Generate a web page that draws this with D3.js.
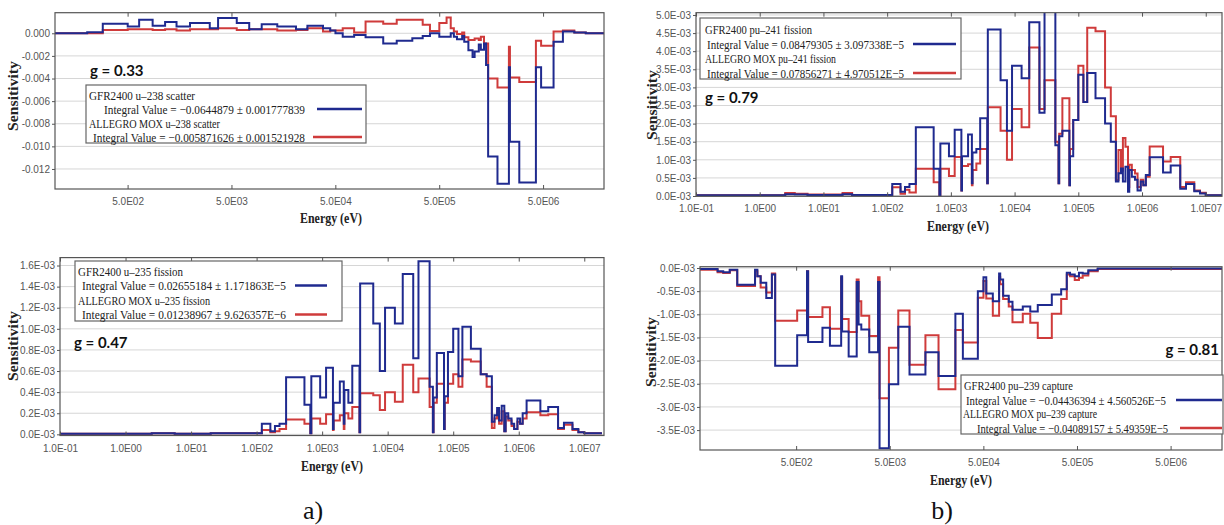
<!DOCTYPE html>
<meta charset="utf-8" />
<script src="https://d3js.org/d3.v7.min.js"></script>
<style>
  body { margin: 0; background: #fff; }
</style>
<div id="chart"></div>
<script>
  // Sensitivities are stored in units of 1E-03.

  // a) top: u-238 scatter
  const scatterEdges = [2.00, 2.31, 2.46, 2.70, 2.81, 2.94, 3.06, 3.17, 3.30, 3.49, 3.57, 3.75, 3.87, 3.99,
    4.14, 4.32, 4.43, 4.58, 4.65, 4.70, 4.77, 4.88, 4.99, 5.16, 5.29, 5.44, 5.54, 5.61, 5.70, 5.77, 5.81,
    5.84, 5.87, 5.92, 5.94, 5.98, 6.02, 6.04, 6.08, 6.10, 6.13, 6.15, 6.17, 6.26, 6.37, 6.38, 6.47, 6.63,
    6.68, 6.80, 6.89, 7.00, 7.11, 7.29];
  const gfrU238Scatter = [0, 0.1, 0.84, 0.6, 1.2, 0.66, 1.0, 0.6, 0.9, 0.45, 1.35, 0.9, 0.36, 0.8, 0.6,
    0.36, 0.66, 0.45, 0.24, 0, -0.3, -0.15, -0.36, -0.9, -0.66, -0.45, -0.24, 0,
    -0.3, -0.3, 0, -0.3, -0.53, -0.24, -0.74, -1.5, -2.1, -1.6, -1.0, -1.45, -0.9, -2.8, -10.9, -13.3,
    -3.0, -9.6, -13.2, -3.0, -4.8, -0.74, 0.15, 0.06, 0];
  const allegroU238Scatter = [0, 0, 0.3, 0.36, 0.36, 0.3, 0.36, 0.24, 0.36, 0.36, 0.45, 0.3, 0.36, 0.36,
    0.24, 0.3, 0.45, 0.15, 0.24, 0.24, 0.45, 0.06, 1.05, 0.84, 1.2, 1.2, 0.75, 0.2,
    0.9, 1.4, 0.45, 0.15, -0.06, 0.06, -0.36, -0.6, -0.6, -0.47, -0.6, -0.3, -0.9, -0.9, -4.0, -4.8,
    -1.2, -3.9, -4.3, -0.65, -1.1, 0.15, 0.24, 0.06, 0];

  // a) bottom and b) top: fission, same group structure
  const fissionEdges = [-1.00, 0.40, 0.55, 0.75, 1.30, 1.45, 2.08, 2.21, 2.28, 2.35, 2.45, 2.73, 2.82,
    2.835, 2.97, 3.06, 3.165, 3.175, 3.27, 3.33, 3.34, 3.40, 3.46, 3.57, 3.58, 3.78, 3.88, 3.96, 4.11,
    4.23, 4.39, 4.47, 4.64, 4.69, 4.70, 4.75, 4.86, 4.87, 4.92, 5.00, 5.08, 5.14, 5.27, 5.42, 5.51, 5.59,
    5.63, 5.67, 5.70, 5.74, 5.78, 5.80, 5.84, 5.89, 5.93, 5.98, 6.02, 6.06, 6.12, 6.33, 6.45, 6.60, 6.69,
    6.82, 6.91, 7.00, 7.27];
  const gfrU235Fission = [0.005, 0.01, 0.01, 0.005, 0.01, 0.01, 0.10, 0.03, 0.08, 0.10,
    0.54, 0.28, 0.01, 0.55, 0.35, 0.63, 0.05, 0.30, 0.50, 0.10,
    0.42, 0.30, 0.65, 0.02, 1.43, 1.05, 0.60, 1.20, 1.05, 1.52,
    0.72, 1.64, 0.45, 0.02, 0.35, 0.77, 0.05, 0.36, 0.78, 1.00,
    0.55, 1.02, 0.81, 0.57, 0.55, 0.12, 0.18, 0.25, 0.13, 0.27,
    0.03, 0.20, 0.15, 0.10, 0.05, 0.15, 0.10, 0.20, 0.32, 0.22,
    0.26, 0.06, 0.11, 0.05, 0.02, 0.01];
  const allegroU235Fission = [0.005, 0.01, 0.01, 0.005, 0.01, 0.01, 0.04, 0.02, 0.03, 0.05,
    0.14, 0.10, 0.01, 0.15, 0.10, 0.19, 0.04, 0.13, 0.18, 0.05,
    0.20, 0.15, 0.26, 0.02, 0.39, 0.37, 0.23, 0.40, 0.31, 0.66,
    0.40, 0.53, 0.26, 0.02, 0.30, 0.48, 0.05, 0.30, 0.48, 0.57,
    0.45, 0.71, 0.69, 0.57, 0.45, 0.06, 0.15, 0.22, 0.10, 0.22,
    0.03, 0.17, 0.13, 0.08, 0.05, 0.12, 0.10, 0.15, 0.21, 0.18,
    0.19, 0.05, 0.09, 0.04, 0.02, 0.01];
  const gfrPu241Fission = [0.02, 0.05, 0.04, 0.03, 0.05, 0.03, 0.33, 0.12, 0.25, 0.33,
    1.90, 0.75, 0.02, 1.45, 1.10, 1.83, 0.15, 1.10, 1.70, 0.35,
    1.20, 1.30, 2.15, 0.35, 4.60, 3.20, 1.80, 3.60, 3.25, 4.80,
    2.30, 5.10, 1.40, 0.35, 1.65, 1.80, 0.30, 1.10, 2.10, 3.35,
    2.60, 3.40, 2.70, 2.00, 1.50, 0.40, 0.63, 0.76, 0.40, 0.81,
    0.12, 0.72, 0.53, 0.45, 0.15, 0.40, 0.30, 0.58, 1.07, 0.65,
    0.84, 0.20, 0.33, 0.13, 0.07, 0.02];
  const allegroPu241Fission = [0.02, 0.08, 0.06, 0.04, 0.08, 0.03, 0.24, 0.06, 0.17, 0.10,
    0.75, 0.38, 0.02, 0.75, 0.55, 1.08, 0.15, 0.83, 0.88, 0.30,
    0.72, 0.90, 1.30, 0.35, 2.45, 1.80, 1.00, 2.40, 1.90, 4.10,
    2.40, 3.20, 1.50, 0.35, 1.72, 2.70, 0.30, 1.30, 2.10, 3.60,
    2.60, 4.65, 4.55, 3.00, 2.20, 0.44, 1.27, 0.70, 1.60, 1.36,
    0.25, 0.86, 0.72, 0.62, 0.25, 0.45, 0.30, 0.53, 1.37, 0.95,
    1.08, 0.25, 0.38, 0.15, 0.09, 0.02];

  // b) bottom: pu-239 capture
  const captureEdges = [1.67, 1.86, 1.92, 1.99, 2.07, 2.26, 2.285, 2.32, 2.38, 2.44, 2.475, 2.71, 2.815,
    2.827, 2.98, 3.06, 3.18, 3.19, 3.26, 3.346, 3.366, 3.395, 3.48, 3.574, 3.59, 3.69, 3.79, 3.91, 4.08,
    4.22, 4.40, 4.48, 4.64, 4.70, 4.73, 4.80, 4.867, 4.879, 4.91, 4.97, 5.01, 5.12, 5.20, 5.28, 5.43,
    5.53, 5.59, 5.625, 5.675, 5.72, 5.76, 5.82, 5.92, 7.25];
  const gfrPu239Capture = [-0.02, -0.07, -0.09, -0.04, -0.36, -0.04, -0.18, -0.32, -0.65, -0.14,
    -2.11, -1.45, -0.07, -1.60, -1.29, -1.68, -0.18, -1.37, -1.91, -0.30,
    -1.22, -1.33, -1.82, -0.30, -3.89, -2.51, -1.27, -2.30, -1.82, -2.33,
    -0.99, -1.96, -0.50, -0.20, -0.55, -0.72, -0.12, -0.25, -0.60, -0.73,
    -0.90, -0.83, -0.94, -0.80, -0.57, -0.46, -0.10, -0.14, -0.18, -0.10,
    -0.12, -0.05, -0.01];
  const allegroPu239Capture = [-0.04, -0.09, -0.11, -0.05, -0.39, -0.07, -0.18, -0.42, -0.53, -0.12,
    -1.14, -0.92, -0.07, -1.06, -0.85, -1.31, -0.20, -1.10, -1.38, -0.25,
    -0.72, -1.03, -1.47, -0.20, -2.81, -1.72, -0.92, -2.09, -1.45, -2.62,
    -1.34, -1.61, -0.64, -0.28, -0.66, -1.03, -0.20, -0.35, -0.67, -0.83,
    -1.17, -0.99, -1.18, -1.51, -0.99, -0.67, -0.14, -0.18, -0.26, -0.21,
    -0.16, -0.07, -0.02];

  // tick values and labels
  const fiveTicks = [5e2, 5e3, 5e4, 5e5, 5e6];
  const fiveLabels = ["5.0E02", "5.0E03", "5.0E04", "5.0E05", "5.0E06"];
  const decadeTicks = [1e-1, 1e0, 1e1, 1e2, 1e3, 1e4, 1e5, 1e6, 1e7];
  const decadeLabels = ["1.0E-01", "1.0E00", "1.0E01", "1.0E02", "1.0E03", "1.0E04", "1.0E05", "1.0E06", "1.0E07"];
  const scatterYTicks = [0, -2, -4, -6, -8, -10, -12];
  const scatterYLabels = ["0.000", "-0.002", "-0.004", "-0.006", "-0.008", "-0.010", "-0.012"];
  const u235YTicks = [0, 0.2, 0.4, 0.6, 0.8, 1.0, 1.2, 1.4, 1.6];
  const u235YLabels = ["0.0E-03", "0.2E-03", "0.4E-03", "0.6E-03", "0.8E-03", "1.0E-03", "1.2E-03", "1.4E-03", "1.6E-03"];
  const pu241YTicks = [0, 0.5, 1.0, 1.5, 2.0, 2.5, 3.0, 3.5, 4.0, 4.5, 5.0];
  const pu241YLabels = ["0.0E-03", "0.5E-03", "1.0E-03", "1.5E-03", "2.0E-03", "2.5E-03", "3.0E-03", "3.5E-03", "4.0E-03", "4.5E-03", "5.0E-03"];
  const pu239YTicks = [0, -0.5, -1.0, -1.5, -2.0, -2.5, -3.0, -3.5];
  const pu239YLabels = ["0.0E-03", "-0.5E-03", "-1.0E-03", "-1.5E-03", "-2.0E-03", "-2.5E-03", "-3.0E-03", "-3.5E-03"];

  const BLUE = "#1f2a8f", RED = "#cf3b3b";

  const svg = d3
    .select("#chart")
    .append("svg")
    .attr("width", 1224)
    .attr("height", 525)
    .style("font-family", "'Liberation Sans', Arial, sans-serif");

  function drawPanel(p, id) {
    const x = d3.scaleLog().domain(p.xDomain).range([p.x0, p.x1]);
    const y = d3.scaleLinear().domain(p.yDomain).range([p.y1, p.y0]);
    const g = svg.append("g");

    // horizontal grid
    g.append("g")
      .selectAll("line")
      .data(p.yTicks)
      .join("line")
      .attr("x1", p.x0)
      .attr("x2", p.x1)
      .attr("y1", (d) => y(d))
      .attr("y2", (d) => y(d))
      .attr("stroke", "#d6d6d6")
      .attr("stroke-width", 1);

    svg.append("clipPath")
      .attr("id", "clip" + id)
      .append("rect")
      .attr("x", p.x0)
      .attr("y", p.y0)
      .attr("width", p.x1 - p.x0)
      .attr("height", p.y1 - p.y0);

    const line = d3
      .line()
      .x((d) => x(Math.pow(10, d[0])))
      .y((d) => y(d[1]))
      .curve(d3.curveStepAfter);

    p.series.forEach((s) => {
      const pts = s.values.map((v, i) => [p.edges[i], v]);
      pts.push([p.edges[p.edges.length - 1], s.values[s.values.length - 1]]);
      g.append("path")
        .attr("d", line(pts))
        .attr("fill", "none")
        .attr("stroke", s.color)
        .attr("stroke-width", 2)
        .attr("clip-path", `url(#clip${id})`);
    });

    // frame
    g.append("rect")
      .attr("x", p.x0)
      .attr("y", p.y0)
      .attr("width", p.x1 - p.x0)
      .attr("height", p.y1 - p.y0)
      .attr("fill", "none")
      .attr("stroke", "#555")
      .attr("stroke-width", 1.2);

    // axes
    const bottom = g
      .append("g")
      .attr("transform", `translate(0,${p.y1})`)
      .call(
        d3.axisBottom(x)
          .tickValues(p.xTicks)
          .tickFormat((d, i) => p.xLabels[i])
          .tickSizeInner(-4)
          .tickSizeOuter(0)
          .tickPadding(9)
      );
    const top = g
      .append("g")
      .attr("transform", `translate(0,${p.y0})`)
      .call(d3.axisTop(x).tickValues(p.xTicks).tickFormat("").tickSizeInner(-4).tickSizeOuter(0));
    const left = g
      .append("g")
      .attr("transform", `translate(${p.x0},0)`)
      .call(
        d3.axisLeft(y)
          .tickValues(p.yTicks)
          .tickFormat((d, i) => p.yLabels[i])
          .tickSizeInner(3)
          .tickSizeOuter(0)
          .tickPadding(2)
      );
    [bottom, top, left].forEach((a) => {
      a.select(".domain").remove();
      a.selectAll("line").attr("stroke", "#555");
      a.selectAll("text").attr("fill", "#555").style("font-size", "10px")
        .style("font-family", "'Liberation Sans', Arial, sans-serif");
    });

    // axis titles
    svg.append("text")
      .attr("x", p.xTitle[0])
      .attr("y", p.xTitle[1])
      .attr("text-anchor", "middle")
      .attr("dy", "0.35em")
      .attr("textLength", 62)
      .attr("lengthAdjust", "spacingAndGlyphs")
      .style("font-family", "'Liberation Serif', 'Times New Roman', serif")
      .style("font-weight", "bold")
      .style("font-size", "14px")
      .attr("fill", "#222")
      .text("Energy (eV)");

    svg.append("text")
      .attr("transform", `translate(${p.yTitle[0]},${p.yTitle[1]}) rotate(-90)`)
      .attr("text-anchor", "middle")
      .attr("dy", "0.35em")
      .attr("textLength", 70)
      .attr("lengthAdjust", "spacingAndGlyphs")
      .style("font-family", "'Liberation Serif', 'Times New Roman', serif")
      .style("font-weight", "bold")
      .style("font-size", "14px")
      .attr("fill", "#222")
      .text("Sensitivity");

    // legend
    const L = p.legend;
    svg.append("rect")
      .attr("x", L.box[0])
      .attr("y", L.box[1])
      .attr("width", L.box[2] - L.box[0])
      .attr("height", L.box[3] - L.box[1])
      .attr("fill", "#fff")
      .attr("stroke", "#666")
      .attr("stroke-width", 1.2);
    L.lines.forEach((ln) => {
      svg.append("text")
        .attr("x", ln[1])
        .attr("y", ln[2])
        .attr("dy", "0.35em")
        .attr("textLength", ln[3])
        .attr("lengthAdjust", "spacingAndGlyphs")
        .style("font-family", "'Liberation Serif', 'Times New Roman', serif")
        .style("font-size", "13px")
        .attr("fill", "#222")
        .text(ln[0]);
    });
    L.samples.forEach((sm) => {
      svg.append("line")
        .attr("x1", sm[0])
        .attr("x2", sm[1])
        .attr("y1", sm[2])
        .attr("y2", sm[2])
        .attr("stroke", sm[3])
        .attr("stroke-width", 2.5);
    });

    // g value
    svg.append("text")
      .attr("x", p.gLabel[0])
      .attr("y", p.gLabel[1])
      .attr("dy", "0.35em")
      .attr("text-anchor", p.gLabel[2])
      .style("font-family", "Lato, 'Open Sans', sans-serif")
      .style("font-weight", "bold")
      .style("font-size", "15px")
      .attr("fill", "#111")
      .text(p.gText);
  }

  drawPanel({
    x0: 55, x1: 604, y0: 12.7, y1: 189,
    xDomain: [100, 1.93e7], yDomain: [-13.77, 1.82],
    edges: scatterEdges,
    series: [{ values: allegroU238Scatter, color: RED }, { values: gfrU238Scatter, color: BLUE }],
    xTicks: fiveTicks, xLabels: fiveLabels, yTicks: scatterYTicks, yLabels: scatterYLabels,
    xTitle: [331, 218], yTitle: [13, 96],
    gText: "g = 0.33", gLabel: [90, 71, "start"],
    legend: {
      box: [86, 85, 366, 143],
      lines: [
        ["GFR2400 u\u2013238 scatter", 89, 95, 106],
        ["Integral Value = \u22120.0644879 \u00b1 0.001777839", 104, 109, 201],
        ["ALLEGRO MOX u\u2013238 scatter", 89, 123, 131],
        ["Integral Value = \u22120.005871626 \u00b1 0.001521928", 93, 137, 212],
      ],
      samples: [[317, 362, 109, BLUE], [313, 362, 137, RED]],
    },
  }, "a1");

  drawPanel({
    x0: 60, x1: 604, y0: 257.6, y1: 435.5,
    xDomain: [0.1, 2e7], yDomain: [-0.011, 1.675],
    edges: fissionEdges,
    series: [{ values: allegroU235Fission, color: RED }, { values: gfrU235Fission, color: BLUE }],
    xTicks: decadeTicks, xLabels: decadeLabels, yTicks: u235YTicks, yLabels: u235YLabels,
    xTitle: [332, 466], yTitle: [13, 346],
    gText: "g = 0.47", gLabel: [74, 343, "start"],
    legend: {
      box: [75, 261, 342, 321],
      lines: [
        ["GFR2400 u\u2013235 fission", 78, 271, 105],
        ["Integral Value = 0.02655184 \u00b1 1.171863E\u22125", 82, 285.5, 204],
        ["ALLEGRO MOX u\u2013235 fission", 78, 300, 132],
        ["Integral Value = 0.01238967 \u00b1 9.626357E\u22126", 82, 314.5, 204],
      ],
      samples: [[295, 327, 285.5, BLUE], [295, 327, 314.5, RED]],
    },
  }, "a2");

  drawPanel({
    x0: 696, x1: 1222, y0: 12.7, y1: 196.3,
    xDomain: [0.1, 1.8e7], yDomain: [-0.008, 5.063],
    edges: fissionEdges,
    series: [{ values: allegroPu241Fission, color: RED }, { values: gfrPu241Fission, color: BLUE }],
    xTicks: decadeTicks, xLabels: decadeLabels, yTicks: pu241YTicks, yLabels: pu241YLabels,
    xTitle: [958, 226], yTitle: [652, 105],
    gText: "g = 0.79", gLabel: [705, 98, "start"],
    legend: {
      box: [700, 18, 961, 79],
      lines: [
        ["GFR2400 pu\u2013241 fission", 705, 29.5, 107],
        ["Integral Value = 0.08479305 \u00b1 3.097338E\u22125", 707, 44, 197],
        ["ALLEGRO MOX pu\u2013241 fission", 705, 58.5, 131],
        ["Integral Value = 0.07856271 \u00b1 4.970512E\u22125", 707, 73, 197],
      ],
      samples: [[913, 956, 44, BLUE], [913, 956, 73, RED]],
    },
  }, "b1");

  drawPanel({
    x0: 700, x1: 1222, y0: 266.7, y1: 450,
    xDomain: [47, 1.77e7], yDomain: [-3.93, 0.028],
    edges: captureEdges,
    series: [{ values: allegroPu239Capture, color: RED }, { values: gfrPu239Capture, color: BLUE }],
    xTicks: fiveTicks, xLabels: fiveLabels, yTicks: pu239YTicks, yLabels: pu239YLabels,
    xTitle: [961, 480], yTitle: [651, 352],
    gText: "g = 0.81", gLabel: [1219, 350, "end"],
    legend: {
      box: [961, 375, 1223, 434],
      lines: [
        ["GFR2400 pu\u2013239 capture", 964, 385, 109],
        ["Integral Value = \u22120.04436394 \u00b1 4.560526E\u22125", 966, 400, 200],
        ["ALLEGRO MOX pu\u2013239 capture", 963, 413.5, 134],
        ["Integral Value = \u22120.04089157 \u00b1 5.49359E\u22125", 977, 428, 191],
      ],
      samples: [[1176, 1222, 400, BLUE], [1180, 1222, 428, RED]],
    },
  }, "b2");

  // sub-figure captions
  [["a)", 313], ["b)", 942]].forEach((c) => {
    svg.append("text")
      .attr("x", c[1])
      .attr("y", 510)
      .attr("dy", "0.35em")
      .attr("text-anchor", "middle")
      .style("font-family", "'Liberation Serif', 'Times New Roman', serif")
      .style("font-size", "26px")
      .attr("fill", "#111")
      .text(c[0]);
  });
</script>
